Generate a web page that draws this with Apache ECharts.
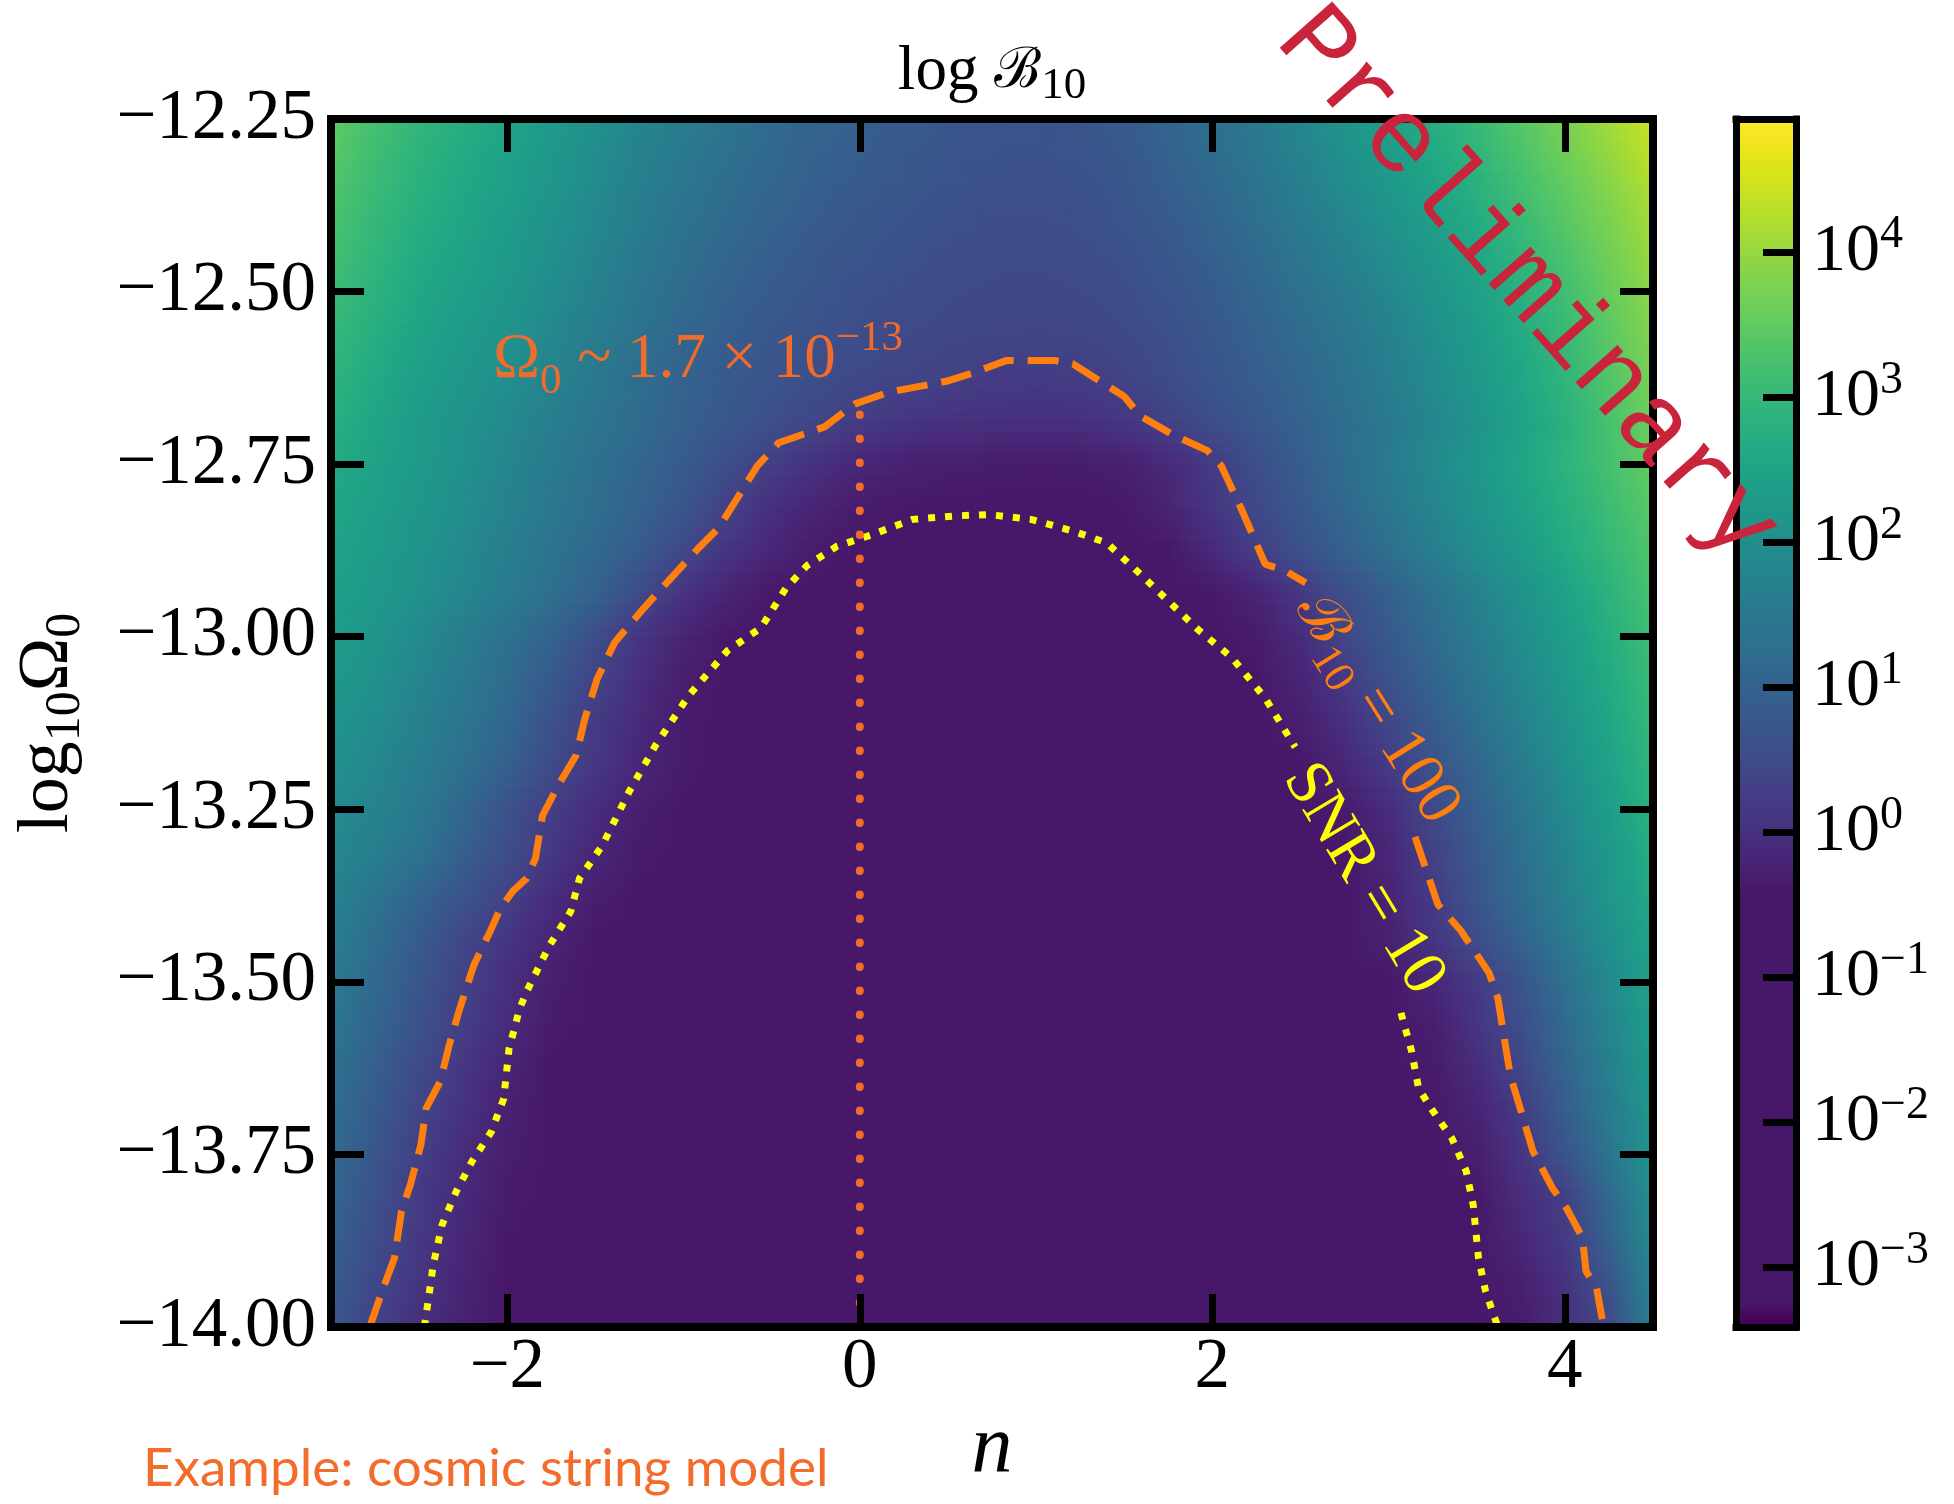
<!DOCTYPE html>
<html><head><meta charset="utf-8">
<script src="https://cdn.jsdelivr.net/npm/echarts@6/dist/echarts.min.js"></script>
<style>html,body{margin:0;padding:0;background:#fff}#c{width:1954px;height:1504px}</style>
</head><body><div id="c"></div>
<script>
// ---------------- data ----------------
const nCenters = [-3,-2.75,-2.5,-2.25,-2,-1.75,-1.5,-1.25,-1,-0.75,-0.5,-0.25,0,0.25,0.5,0.75,1,1.25,1.5,1.75,2,2.25,2.5,2.75,3,3.25,3.5,3.75,4,4.25,4.5];
const omegaRows = [-12.25,-12.3125,-12.375,-12.4375,-12.5,-12.5625,-12.625,-12.6875,-12.75,-12.8125,-12.875,-12.9375,-13.0,-13.0625,-13.125,-13.1875,-13.25,-13.3125,-13.375,-13.4375,-13.5,-13.5625,-13.625,-13.6875,-13.75,-13.8125,-13.875,-13.9375,-14.0];
// log10 of Bayes factor, one row per omegaRows entry, one column per nCenters entry
const logB = [
[3.5,3.2,2.95,2.75,2.55,2.3,2.05,1.8,1.6,1.4,1.2,1.05,0.95,0.85,0.75,0.7,0.68,0.72,0.85,1.05,1.3,1.55,1.85,2.15,2.45,2.75,3.05,3.4,3.75,4.1,4.45],
[3.4,3.11,2.86,2.66,2.46,2.21,1.96,1.71,1.5,1.3,1.11,0.97,0.87,0.78,0.69,0.64,0.62,0.66,0.77,0.96,1.19,1.43,1.72,2.01,2.3,2.6,2.9,3.25,3.6,3.95,4.3],
[3.3,3.03,2.78,2.58,2.38,2.13,1.88,1.63,1.4,1.2,1.03,0.89,0.79,0.7,0.63,0.58,0.57,0.6,0.7,0.87,1.08,1.32,1.59,1.87,2.15,2.45,2.76,3.1,3.45,3.8,4.14],
[3.2,2.94,2.69,2.49,2.29,2.04,1.79,1.54,1.3,1.1,0.94,0.8,0.7,0.63,0.56,0.52,0.51,0.54,0.62,0.77,0.96,1.2,1.46,1.72,2.0,2.3,2.61,2.95,3.3,3.68,4.04],
[3.1,2.85,2.6,2.4,2.2,1.95,1.7,1.45,1.2,1.0,0.85,0.72,0.62,0.55,0.5,0.46,0.45,0.47,0.54,0.68,0.85,1.08,1.33,1.58,1.84,2.14,2.46,2.8,3.15,3.55,3.93],
[3.0,2.75,2.5,2.3,2.1,1.85,1.6,1.35,1.1,0.9,0.76,0.64,0.55,0.48,0.43,0.4,0.38,0.4,0.46,0.6,0.77,0.98,1.2,1.45,1.72,2.02,2.33,2.67,3.03,3.43,3.83],
[2.9,2.65,2.4,2.2,2.0,1.75,1.5,1.25,1.0,0.82,0.68,0.56,0.46,0.39,0.32,0.22,0.2,0.24,0.36,0.52,0.7,0.9,1.1,1.35,1.62,1.92,2.23,2.57,2.93,3.33,3.73],
[2.8,2.55,2.3,2.1,1.9,1.65,1.42,1.2,0.97,0.77,0.6,0.4,0.22,0.1,0.05,0.02,0.0,0.02,0.12,0.32,0.55,0.78,1.0,1.25,1.52,1.82,2.13,2.47,2.83,3.23,3.63],
[2.65,2.48,2.28,2.05,1.8,1.55,1.3,1.07,0.85,0.55,0.25,0.02,-0.15,-0.25,-0.3,-0.33,-0.35,-0.33,-0.28,-0.1,0.2,0.56,0.89,1.22,1.55,1.88,2.21,2.54,2.87,3.2,3.53],
[2.57,2.4,2.2,1.98,1.74,1.5,1.25,1.0,0.72,0.33,0.0,-0.2,-0.35,-0.38,-0.4,-0.4,-0.4,-0.4,-0.38,-0.2,0.12,0.45,0.79,1.12,1.45,1.78,2.11,2.44,2.77,3.1,3.43],
[2.5,2.33,2.13,1.9,1.65,1.4,1.13,0.85,0.45,0.1,-0.15,-0.35,-0.4,-0.4,-0.4,-0.4,-0.4,-0.4,-0.4,-0.4,-0.1,0.28,0.62,0.96,1.3,1.64,1.98,2.31,2.65,2.99,3.33],
[2.42,2.25,2.05,1.82,1.57,1.3,0.98,0.5,0.05,-0.2,-0.4,-0.4,-0.4,-0.4,-0.4,-0.4,-0.4,-0.4,-0.4,-0.4,-0.4,-0.2,0.15,0.56,0.94,1.32,1.71,2.09,2.47,2.85,3.23],
[2.35,2.15,1.9,1.62,1.32,1.0,0.55,0.1,-0.2,-0.4,-0.4,-0.4,-0.4,-0.4,-0.4,-0.4,-0.4,-0.4,-0.4,-0.4,-0.4,-0.35,-0.05,0.41,0.8,1.19,1.58,1.97,2.36,2.75,3.14],
[2.25,2.05,1.8,1.52,1.2,0.8,0.35,0.0,-0.3,-0.4,-0.4,-0.4,-0.4,-0.4,-0.4,-0.4,-0.4,-0.4,-0.4,-0.4,-0.4,-0.4,-0.2,0.2,0.63,1.03,1.44,1.85,2.25,2.66,3.07],
[2.15,1.95,1.7,1.42,1.1,0.62,0.2,-0.1,-0.35,-0.4,-0.4,-0.4,-0.4,-0.4,-0.4,-0.4,-0.4,-0.4,-0.4,-0.4,-0.4,-0.4,-0.3,0.0,0.42,0.85,1.28,1.71,2.14,2.57,3.0],
[2.05,1.85,1.6,1.3,0.95,0.5,0.15,-0.15,-0.35,-0.4,-0.4,-0.4,-0.4,-0.4,-0.4,-0.4,-0.4,-0.4,-0.4,-0.4,-0.4,-0.4,-0.4,-0.15,0.2,0.66,1.11,1.57,2.02,2.47,2.93],
[1.95,1.75,1.5,1.1,0.65,0.25,-0.05,-0.3,-0.4,-0.4,-0.4,-0.4,-0.4,-0.4,-0.4,-0.4,-0.4,-0.4,-0.4,-0.4,-0.4,-0.4,-0.4,-0.35,-0.05,0.45,0.93,1.41,1.89,2.37,2.85],
[1.85,1.65,1.38,0.95,0.55,0.15,-0.15,-0.35,-0.4,-0.4,-0.4,-0.4,-0.4,-0.4,-0.4,-0.4,-0.4,-0.4,-0.4,-0.4,-0.4,-0.4,-0.4,-0.4,-0.15,0.32,0.8,1.29,1.77,2.26,2.75],
[1.75,1.4,1.04,0.68,0.33,-0.05,-0.3,-0.4,-0.4,-0.4,-0.4,-0.4,-0.4,-0.4,-0.4,-0.4,-0.4,-0.4,-0.4,-0.4,-0.4,-0.4,-0.4,-0.4,-0.2,0.2,0.74,1.22,1.69,2.17,2.65],
[1.65,1.25,0.84,0.43,0.1,-0.2,-0.4,-0.4,-0.4,-0.4,-0.4,-0.4,-0.4,-0.4,-0.4,-0.4,-0.4,-0.4,-0.4,-0.4,-0.4,-0.4,-0.4,-0.4,-0.25,0.1,0.52,1.03,1.54,2.05,2.55],
[1.55,1.14,0.73,0.32,0.0,-0.3,-0.4,-0.4,-0.4,-0.4,-0.4,-0.4,-0.4,-0.4,-0.4,-0.4,-0.4,-0.4,-0.4,-0.4,-0.4,-0.4,-0.4,-0.4,-0.4,-0.15,0.2,0.7,1.29,1.87,2.46],
[1.45,1.05,0.64,0.25,-0.05,-0.35,-0.4,-0.4,-0.4,-0.4,-0.4,-0.4,-0.4,-0.4,-0.4,-0.4,-0.4,-0.4,-0.4,-0.4,-0.4,-0.4,-0.4,-0.4,-0.4,-0.3,0.1,0.57,1.17,1.78,2.38],
[1.35,0.93,0.5,0.12,-0.2,-0.4,-0.4,-0.4,-0.4,-0.4,-0.4,-0.4,-0.4,-0.4,-0.4,-0.4,-0.4,-0.4,-0.4,-0.4,-0.4,-0.4,-0.4,-0.4,-0.4,-0.35,-0.05,0.4,1.03,1.67,2.3],
[1.27,0.83,0.39,0.05,-0.25,-0.4,-0.4,-0.4,-0.4,-0.4,-0.4,-0.4,-0.4,-0.4,-0.4,-0.4,-0.4,-0.4,-0.4,-0.4,-0.4,-0.4,-0.4,-0.4,-0.4,-0.4,-0.2,0.2,0.89,1.55,2.22],
[1.18,0.73,0.28,-0.05,-0.3,-0.4,-0.4,-0.4,-0.4,-0.4,-0.4,-0.4,-0.4,-0.4,-0.4,-0.4,-0.4,-0.4,-0.4,-0.4,-0.4,-0.4,-0.4,-0.4,-0.4,-0.4,-0.3,0.1,0.68,1.42,2.15],
[1.07,0.63,0.2,-0.1,-0.35,-0.4,-0.4,-0.4,-0.4,-0.4,-0.4,-0.4,-0.4,-0.4,-0.4,-0.4,-0.4,-0.4,-0.4,-0.4,-0.4,-0.4,-0.4,-0.4,-0.4,-0.4,-0.4,-0.05,0.28,1.15,2.03],
[0.96,0.53,0.15,-0.15,-0.38,-0.4,-0.4,-0.4,-0.4,-0.4,-0.4,-0.4,-0.4,-0.4,-0.4,-0.4,-0.4,-0.4,-0.4,-0.4,-0.4,-0.4,-0.4,-0.4,-0.4,-0.4,-0.4,-0.15,0.2,0.97,1.9],
[0.85,0.44,0.1,-0.2,-0.4,-0.4,-0.4,-0.4,-0.4,-0.4,-0.4,-0.4,-0.4,-0.4,-0.4,-0.4,-0.4,-0.4,-0.4,-0.4,-0.4,-0.4,-0.4,-0.4,-0.4,-0.4,-0.4,-0.28,0.05,0.67,1.78],
[0.75,0.32,0.0,-0.25,-0.4,-0.4,-0.4,-0.4,-0.4,-0.4,-0.4,-0.4,-0.4,-0.4,-0.4,-0.4,-0.4,-0.4,-0.4,-0.4,-0.4,-0.4,-0.4,-0.4,-0.4,-0.4,-0.4,-0.35,0.0,0.45,1.67]
];
// B10 = 100 contour (dashed), split where the inline label sits
const b10LeftPts = [[-2.78,-14.0],[-2.71,-13.948],[-2.64,-13.9],[-2.60,-13.832],[-2.55,-13.794],[-2.49,-13.736],[-2.46,-13.683],[-2.38,-13.644],[-2.33,-13.592],[-2.27,-13.539],[-2.19,-13.476],[-2.09,-13.423],[-2.04,-13.394],[-1.97,-13.369],[-1.89,-13.35],[-1.84,-13.321],[-1.80,-13.259],[-1.71,-13.215],[-1.61,-13.172],[-1.56,-13.119],[-1.49,-13.061],[-1.39,-13.008],[-1.23,-12.96],[-1.11,-12.926],[-0.92,-12.873],[-0.80,-12.842],[-0.58,-12.752],[-0.46,-12.719],[-0.20,-12.696],[-0.03,-12.663],[0.16,-12.646],[0.49,-12.63],[0.64,-12.618],[0.83,-12.60],[1.11,-12.60],[1.21,-12.605],[1.50,-12.652],[1.59,-12.68],[1.78,-12.708],[1.97,-12.73],[2.05,-12.752],[2.17,-12.818],[2.30,-12.895],[2.41,-12.904],[2.53,-12.922]];
const b10RightPts = [[3.15,-13.29],[3.28,-13.388],[3.41,-13.426],[3.57,-13.487],[3.62,-13.524],[3.69,-13.635],[3.82,-13.746],[3.93,-13.799],[4.01,-13.828],[4.10,-13.871],[4.12,-13.919],[4.18,-13.944],[4.22,-14.0]];
// SNR = 10 contour (dotted), split where the inline label sits
const snrLeftPts = [[-2.47,-14.0],[-2.42,-13.91],[-2.37,-13.852],[-2.29,-13.804],[-2.20,-13.76],[-2.09,-13.717],[-2.02,-13.669],[-1.99,-13.597],[-1.93,-13.539],[-1.89,-13.514],[-1.76,-13.447],[-1.64,-13.398],[-1.59,-13.35],[-1.46,-13.302],[-1.31,-13.225],[-1.16,-13.158],[-0.97,-13.085],[-0.75,-13.02],[-0.56,-12.987],[-0.42,-12.93],[-0.30,-12.897],[-0.13,-12.869],[0.06,-12.853],[0.30,-12.83],[0.54,-12.825],[0.73,-12.823],[0.97,-12.83],[1.21,-12.847],[1.40,-12.864],[1.59,-12.909],[1.92,-12.99],[2.11,-13.03],[2.30,-13.089],[2.47,-13.16]];
const snrRightPts = [[3.07,-13.545],[3.13,-13.60],[3.17,-13.654],[3.24,-13.683],[3.36,-13.727],[3.44,-13.774],[3.48,-13.823],[3.51,-13.9],[3.55,-13.948],[3.62,-14.0]];
// vertical marker at n = 0
const omegaMarkerPts = [[0,-14.0],[0,-12.663]];
// ticks
const xTickVals = [-2,0,2,4];
const cbTickVals = [-3,-2,-1,0,1,2,3,4];
const CB_MIN = -3.41, CB_MAX = 4.92;
// annotation anchors (data coords)
const omegaNotePos = [-2.08,-12.60];
const b10LabelPos = [2.93,-13.105];
const snrLabelPos = [2.857,-13.351];

// ---------------- colormap ----------------
const VIR = ['#440154','#471365','#482475','#463480','#414487','#3b528b','#355f8d','#2f6c8e','#2a788e','#25848e','#21918c','#1e9c89','#22a884','#2fb47c','#44bf70','#5ec962','#7ad151','#9bd93c','#bddf26','#dfe318','#fde725'];
function hx(h){return [parseInt(h.slice(1,3),16),parseInt(h.slice(3,5),16),parseInt(h.slice(5,7),16)];}
function viridis(t){t=Math.max(0,Math.min(1,t));const p=t*20;const i=Math.min(19,Math.floor(p));const f=p-i;const a=hx(VIR[i]),b=hx(VIR[i+1]);return 'rgb('+a.map((x,k)=>Math.round(x+(b[k]-x)*f)).join(',')+')';}
function tOf(v){ if(v < -3.33) return 0; return Math.min(1, Math.max(0.065, 0.135 + 0.177*v)); }
const colorOf = v => viridis(tOf(v));
const cmapColors = [];
for (let k=0;k<=240;k++){ const v = CB_MIN + (CB_MAX-CB_MIN)*k/240; cmapColors.push(colorOf(v)); }

// ---------------- build ----------------
const cells = [];
omegaRows.forEach((w,i)=>{ logB[i].forEach((v,j)=>{ cells.push([nCenters[j], w, v, i, j]); }); });
const DN = nCenters[1]-nCenters[0];
const DW = omegaRows[0]-omegaRows[1];
const NR = logB.length, NC = nCenters.length;
// shading helper: value of cell (i,j) shaded toward its vertical neighbour by fraction f (f>0 = downward)
function shadeV(i, j, f){
  const v0 = logB[i][j];
  if (f < 0) { const vu = i > 0 ? logB[i-1][j] : v0; return v0 + (-f)*(vu - v0); }
  const vd = i < NR-1 ? logB[i+1][j] : v0; return v0 + f*(vd - v0);
}
const SUB = 4;

const serif = "'Liberation Serif', 'DejaVu Serif', serif";
const mono = "'Liberation Mono', 'DejaVu Sans Mono', monospace";
const fmtY = v => (v<0?'\u2212':'') + Math.abs(v).toFixed(2);
const fmtX = v => (v<0?'\u2212':'') + Math.abs(v);
const fmtCb = v => '{b|10}{s|' + (v<0?'\u2212':'') + Math.abs(v) + '}';
const frame = w => ({show:true, onZero:false, lineStyle:{color:'#000', width:w, cap:'square'}});
const tick = vals => { const o = {show:true, inside:true, length:33, lineStyle:{color:'#000', width:7}}; if (vals) o.customValues = vals; return o; };
const none = {show:false};

const chart = echarts.init(document.getElementById('c'), null, {renderer:'canvas'});
const option = {
  animation:false,
  backgroundColor:'#fff',
  textStyle:{fontFamily:serif},
  grid:[{left:331, top:119, width:1322, height:1208}, {left:1736, top:119, width:60, height:1208}],
  xAxis:[
    {gridIndex:0, type:'value', min:-3, max:4.5, position:'bottom', z:10, axisLine:frame(8), axisTick:tick(xTickVals), splitLine:none,
     axisLabel:{customValues:xTickVals, formatter:fmtX, fontFamily:serif, fontSize:71, color:'#000', margin:6},
     name:'n', nameLocation:'middle', nameGap:72, nameTextStyle:{fontFamily:serif, fontStyle:'italic', fontSize:82, color:'#000'}},
    {gridIndex:0, type:'value', min:-3, max:4.5, position:'top', z:10, axisLine:frame(8), axisTick:tick(xTickVals), splitLine:none, axisLabel:none},
    {gridIndex:1, type:'value', min:0, max:1, position:'bottom', z:10, axisLine:frame(7), axisTick:none, splitLine:none, axisLabel:none},
    {gridIndex:1, type:'value', min:0, max:1, position:'top', z:10, axisLine:frame(7), axisTick:none, splitLine:none, axisLabel:none}
  ],
  yAxis:[
    {gridIndex:0, type:'value', min:-14, max:-12.25, interval:0.25, position:'left', z:10, axisLine:frame(8), axisTick:tick(), splitLine:none,
     axisLabel:{formatter:fmtY, fontFamily:serif, fontSize:71, color:'#000', margin:15, showMinLabel:true, showMaxLabel:true},
     name:'{a|log}{s|10}{a|\u03A9}{s|0}', nameLocation:'middle', nameGap:240, nameRotate:90,
     nameTextStyle:{fontFamily:serif, rich:{a:{fontFamily:serif, fontSize:72, lineHeight:86, color:'#000'}, s:{fontFamily:serif, fontSize:50, lineHeight:50, verticalAlign:'bottom', color:'#000'}}}},
    {gridIndex:0, type:'value', min:-14, max:-12.25, interval:0.25, position:'right', z:10, axisLine:frame(8), axisTick:tick(), splitLine:none, axisLabel:none},
    {gridIndex:1, type:'value', min:CB_MIN, max:CB_MAX, position:'left', z:10, axisLine:frame(7), axisTick:none, splitLine:none, axisLabel:none},
    {gridIndex:1, type:'value', min:CB_MIN, max:CB_MAX, position:'right', z:10, axisLine:frame(7), axisTick:tick(cbTickVals), splitLine:none,
     axisLabel:{customValues:cbTickVals, formatter:fmtCb, margin:16, fontFamily:serif,
       rich:{b:{fontFamily:serif, fontSize:68, lineHeight:80, color:'#000'}, s:{fontFamily:serif, fontSize:46, lineHeight:46, verticalAlign:'top', color:'#000'}}}}
  ],
  visualMap:[{type:'continuous', min:CB_MIN, max:CB_MAX, dimension:2, seriesIndex:0, calculable:false, hoverLink:false,
    inRange:{color:cmapColors}, left:1736, top:119, itemWidth:60, itemHeight:1208, padding:0, text:null, show:true, z:1}],
  series:[
    {type:'custom', xAxisIndex:0, yAxisIndex:0, data:cells, silent:true, z:1,
     renderItem:function(params, api){
       const n = api.value(0), w = api.value(1), i = api.value(3), j = api.value(4);
       const a = api.coord([n - DN/2, w + DW/2]);
       const b = api.coord([n + DN/2, w - DW/2]);
       const cs = params.coordSys;
       const clipBox = {x:cs.x, y:cs.y, width:cs.width, height:cs.height};
       const hStep = (b[1]-a[1]) / SUB;
       const children = [];
       for (let k = 0; k < SUB; k++) {
         const f = (k + 0.5)/SUB - 0.5;
         const shape = echarts.graphic.clipRectByRect({x:a[0], y:a[1] + k*hStep, width:b[0]-a[0]+1, height:hStep+1}, clipBox);
         if (!shape) continue;
         const vc = shadeV(i, j, f);
         const vl = j > 0 ? (shadeV(i, j-1, f) + vc)/2 : vc;
         const vr = j < NC-1 ? (shadeV(i, j+1, f) + vc)/2 : vc;
         const fill = new echarts.graphic.LinearGradient(a[0], 0, b[0], 0, [
           {offset:0, color:colorOf(vl)}, {offset:0.5, color:colorOf(vc)}, {offset:1, color:colorOf(vr)}], true);
         children.push({type:'rect', shape:shape, style:{fill:fill}});
       }
       return {type:'group', children:children};
     }},
    {type:'line', xAxisIndex:0, yAxisIndex:0, data:b10LeftPts, showSymbol:false, symbol:'none', clip:true, z:4, silent:true,
     lineStyle:{color:'#ff7f0e', width:7, type:[31,14], cap:'butt'}},
    {type:'line', xAxisIndex:0, yAxisIndex:0, data:b10RightPts, showSymbol:false, symbol:'none', clip:true, z:4, silent:true,
     lineStyle:{color:'#ff7f0e', width:7, type:[31,14], cap:'butt'}},
    {type:'line', xAxisIndex:0, yAxisIndex:0, data:snrLeftPts, showSymbol:false, symbol:'none', clip:true, z:4, silent:true,
     lineStyle:{color:'#ffff00', width:7, type:[7,10], cap:'butt'}},
    {type:'line', xAxisIndex:0, yAxisIndex:0, data:snrRightPts, showSymbol:false, symbol:'none', clip:true, z:4, silent:true,
     lineStyle:{color:'#ffff00', width:7, type:[7,10], cap:'butt'}},
    {type:'line', xAxisIndex:0, yAxisIndex:0, data:omegaMarkerPts, showSymbol:false, symbol:'none', clip:true, z:4, silent:true,
     lineStyle:{color:'#f36b2a', width:8, type:[0.5,23.5], cap:'round'}}
  ]
};
chart.setOption(option);

const P = pt => chart.convertToPixel({xAxisIndex:0, yAxisIndex:0}, pt);
const topLeft = P([-3,-12.25]), botRight = P([4.5,-14]);
const cx = (topLeft[0]+botRight[0])/2;
const pO = P(omegaNotePos), pB = P(b10LabelPos), pS = P(snrLabelPos);
const deg = Math.PI/180;
chart.setOption({graphic:[
  {type:'text', x:cx, y:72, z:50, silent:true, style:{text:'log {b|\u212C}{s|10}', fontFamily:serif, fontSize:63, lineHeight:74, fill:'#000', align:'center', verticalAlign:'middle',
    rich:{b:{fontFamily:"'DejaVu Serif', serif", fontSize:56, lineHeight:74, fill:'#000'}, s:{fontFamily:serif, fontSize:45, lineHeight:45, verticalAlign:'bottom', fill:'#000'}}}},
  {type:'text', x:pO[0], y:pO[1], z:50, silent:true, style:{text:'{o|\u03A9}{s|0}{t| ~ 1.7 \u00D7 10}{p|\u221213}', align:'left', verticalAlign:'middle', fontFamily:serif,
    rich:{o:{fontFamily:serif, fontSize:63, lineHeight:86, fill:'#f36b2a'}, s:{fontFamily:serif, fontSize:43, lineHeight:43, verticalAlign:'bottom', fill:'#f36b2a'},
          t:{fontFamily:serif, fontSize:63, lineHeight:86, fill:'#f36b2a'}, p:{fontFamily:serif, fontSize:43, lineHeight:54, verticalAlign:'top', fill:'#f36b2a'}}}},
  {type:'text', x:pB[0], y:pB[1], rotation:-58*deg, z:50, silent:true, style:{text:'{b|\u212C}{s|10}{t| = 100}', align:'center', verticalAlign:'middle', fontFamily:serif,
    rich:{b:{fontFamily:"'DejaVu Serif', serif", fontSize:58, lineHeight:78, fill:'#ff7f0e'}, s:{fontFamily:serif, fontSize:44, lineHeight:44, verticalAlign:'bottom', fill:'#ff7f0e'},
          t:{fontFamily:serif, fontSize:64, lineHeight:78, fill:'#ff7f0e'}}}},
  {type:'text', x:pS[0], y:pS[1], rotation:-59*deg, z:50, silent:true, style:{text:'SNR = 10', fontFamily:serif, fontSize:64, fill:'#ffff00', align:'center', verticalAlign:'middle'}},
  {type:'text', x:1527, y:285, rotation:-48.5*deg, z:100, silent:true, style:{text:'Preliminary', fontFamily:mono, fontSize:106, fill:'#c9243b', align:'center', verticalAlign:'middle'}},
  {type:'text', x:143, y:1469, z:50, silent:true, style:{text:'Example: cosmic string model', fontFamily:"'Lato', sans-serif", fontSize:53, fill:'#f36c2c', align:'left', verticalAlign:'middle'}}
]});
</script>
</body></html>
